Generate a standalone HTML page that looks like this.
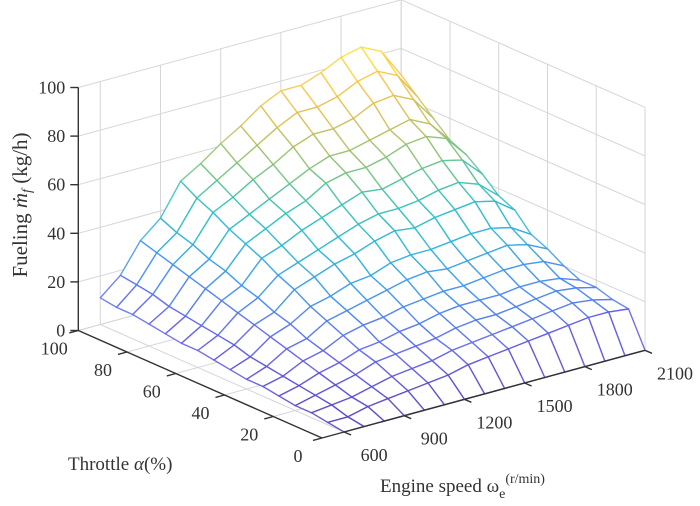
<!DOCTYPE html>
<html><head><meta charset="utf-8"><style>
html,body{margin:0;padding:0;background:#fff;}
svg{display:block;font-family:"Liberation Serif",serif;}
</style></head><body>
<svg id="chart" width="700" height="506" viewBox="0 0 700 506" xmlns="http://www.w3.org/2000/svg">
<g id="grid"></g>
<g id="surface"></g>
<g id="axes"></g>
<text transform="translate(27,205) rotate(-90)" text-anchor="middle" font-size="21" fill="#333">Fueling <tspan font-style="italic">ṁ</tspan><tspan font-style="italic" font-size="14" dy="4">f</tspan><tspan dy="-4">  (kg/h)</tspan></text>
<text x="68" y="470" font-size="19" fill="#333">Throttle <tspan font-style="italic">α</tspan>(%)</text>
<text x="380" y="492" font-size="19" fill="#333">Engine speed ω<tspan font-size="14" dy="6">e</tspan><tspan font-size="14" dy="-15">(r/min)</tspan></text>
</svg>
<script>
const speeds = [600,700,800,900,1000,1100,1200,1300,1400,1500,1600,1700,1800,1900,2000,2100];
const throttles = [0,6.7,13.3,20,26.7,33.3,40,46.7,53.3,60,66.7,73.3,80,86.7,93.3,100];
const fuel = [
[0,0,0,0,0,0,0,0,0,0,0,0,0,0,0,0],
[1,1,3,4,5,6,7,9,10,11,12,13,14,15,15,14],
[2,3,4,6,8,9,10,12,13,14,15,16,17,18,17,15],
[2,4,6,8,11,12,13,14,16,17,17,18,19,20,19,17],
[3,5,8,10,13,14,16,17,19,20,20,20,21,21,20,17],
[4,6,10,12,16,18,19,21,22,23,23,24,25,25,24,20],
[4,7,12,14,19,21,23,25,27,28,27,28,29,30,28,24],
[5,8,14,17,22,24,27,28,31,32,32,33,34,34,32,27],
[6,10,16,19,26,29,32,34,37,39,38,40,41,42,40,34],
[7,11,18,22,29,32,35,38,41,43,43,44,46,47,44,37],
[7,12,20,24,33,36,40,43,46,49,48,50,52,53,51,43],
[8,13,22,27,36,40,44,47,52,54,54,56,59,60,57,48],
[9,14,24,29,39,43,47,51,55,58,58,60,62,64,60,51],
[10,16,26,32,43,47,52,56,61,64,64,66,70,71,67,57],
[10,17,28,34,46,51,56,61,66,70,70,72,76,78,74,63],
[11,18,30,37,50,55,61,66,72,76,76,79,83,85,81,69]
];
const zTicks = [0,20,40,60,80,100];
const speedTicks = [600,900,1200,1500,1800,2100];
const throttleTicks = [0,20,40,60,80,100];

const NS = "http://www.w3.org/2000/svg";
const S0 = 490, S1 = 2100, T0 = 0, T1 = 100, ZMAX = 85;
function P(s,t,z){
  return [322 + (s-S0)*0.2006 - t*2.4375, 438 - (s-S0)*0.0545 - t*1.075 - z*2.43];
}
const stops = [[0,[80,60,190]],[0.125,[95,95,240]],[0.25,[60,140,240]],[0.375,[35,178,218]],[0.5,[40,192,185]],[0.625,[120,194,115]],[0.75,[210,188,80]],[0.875,[252,198,65]],[1,[249,240,30]]];
function parula(v){
  v=Math.max(0,Math.min(1,v));
  for(let k=0;k<stops.length-1;k++){
    const a=stops[k],b=stops[k+1];
    if(v<=b[0]){const f=(v-a[0])/(b[0]-a[0]);
      return 'rgb('+a[1].map((c,i)=>Math.round(c+(b[1][i]-c)*f)).join(',')+')';}
  }
  return 'rgb(249,240,30)';
}
function line(parent,p,q,stroke,w,name){
  const l=document.createElementNS(NS,'line');
  l.setAttribute('x1',p[0].toFixed(1));l.setAttribute('y1',p[1].toFixed(1));
  l.setAttribute('x2',q[0].toFixed(1));l.setAttribute('y2',q[1].toFixed(1));
  l.setAttribute('stroke',stroke);l.setAttribute('stroke-width',w);
  
  
  parent.appendChild(l);return l;
}
function text(parent,x,y,str,anchor,name){
  const t=document.createElementNS(NS,'text');
  t.setAttribute('x',x);t.setAttribute('y',y);t.setAttribute('text-anchor',anchor);
  t.setAttribute('font-size','18');t.setAttribute('fill','#333');
  t.textContent=str;
  
  
  parent.appendChild(t);
}
const grid=document.getElementById('grid');
const gc='#d6d6d6';
zTicks.forEach(z=>line(grid,P(S0,T1,z),P(S1,T1,z),gc,1,'back-wall-gridline'));
speedTicks.forEach(s=>line(grid,P(s,T1,0),P(s,T1,100),gc,1,'back-wall-gridline'));
zTicks.forEach(z=>line(grid,P(S1,T0,z),P(S1,T1,z),gc,1,'right-wall-gridline'));
throttleTicks.forEach(t=>line(grid,P(S1,t,0),P(S1,t,100),gc,1,'right-wall-gridline'));
throttleTicks.forEach(t=>line(grid,P(S0,t,0),P(S1,t,0),gc,1,'floor-gridline'));
speedTicks.forEach(s=>line(grid,P(s,T0,0),P(s,T1,0),gc,1,'floor-gridline'));

const surf=document.getElementById('surface');
const quads=[];
for(let j=0;j<throttles.length-1;j++){
  for(let i=0;i<speeds.length-1;i++){
    const sc=(speeds[i]+speeds[i+1])/2, tc=(throttles[j]+throttles[j+1])/2;
    quads.push({i,j,depth:P(sc,tc,0)[1]});
  }
}
quads.sort((a,b)=>a.depth-b.depth);
quads.forEach(q=>{
  const i=q.i,j=q.j;
  const pts=[[i,j],[i+1,j],[i+1,j+1],[i,j+1]].map(([a,b])=>P(speeds[a],throttles[b],fuel[b][a]));
  const zavg=(fuel[j][i]+fuel[j][i+1]+fuel[j+1][i]+fuel[j+1][i+1])/4;
  const poly=document.createElementNS(NS,'polygon');
  poly.setAttribute('points',pts.map(p=>p[0].toFixed(1)+','+p[1].toFixed(1)).join(' '));
  poly.setAttribute('fill','#fff');
  poly.setAttribute('stroke',parula(zavg/ZMAX));
  poly.setAttribute('stroke-width','1.4');
  poly.setAttribute('stroke-linejoin','round');
  poly.setAttribute('stroke-opacity','0.85');
  
  
  surf.appendChild(poly);
});

const ax=document.getElementById('axes');
const ac='#333';
line(ax,P(S0,T1,0),P(S0,T1,100),ac,1.4,'z-axis-line');
line(ax,P(S0,T0,0),P(S0,T1,0),ac,1.4,'throttle-axis-line');
line(ax,P(S0,T0,0),P(S1,T0,0),ac,1.4,'speed-axis-line');
zTicks.forEach(z=>{
  const p=P(S0,T1,z);
  line(ax,p,[p[0]-8,p[1]],ac,1.4,'z-tick');
  text(ax,p[0]-13,p[1]+6,String(z),'end','z-tick-label');
});
throttleTicks.forEach(t=>{
  const p=P(S0,t,0);
  line(ax,p,[p[0]-9,p[1]+2.4],ac,1.4,'throttle-tick');
  text(ax,p[0]-24,p[1]+24,String(t),'middle','throttle-tick-label');
});
speedTicks.forEach(s=>{
  const p=P(s,T0,0);
  line(ax,p,[p[0]+7,p[1]+3],ac,1.4,'speed-tick');
  text(ax,p[0]+30,p[1]+29,String(s),'middle','speed-tick-label');
});
</script>
</body></html>
